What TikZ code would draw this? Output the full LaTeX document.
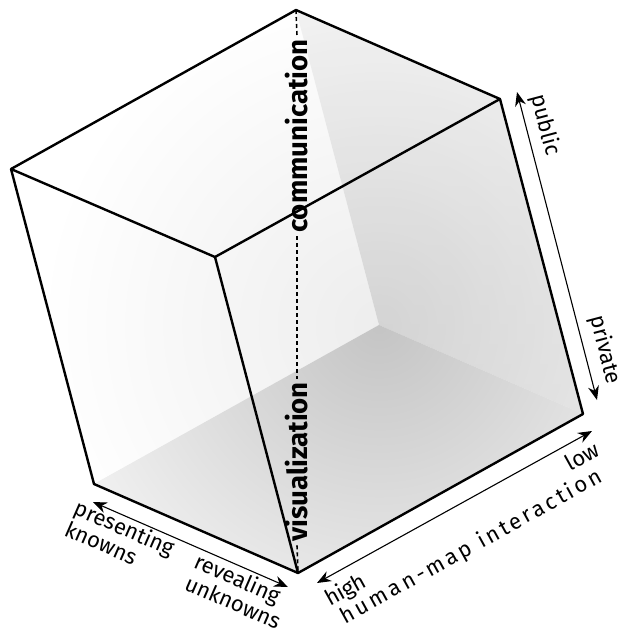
\documentclass[tikz,border=0pt]{standalone}
\usepackage{fontspec}
\setmainfont{Fira Sans}
\usetikzlibrary{arrows.meta}

\begin{document}
\begin{tikzpicture}[
  x=0.5pt, y=-0.5pt,
  edge/.style={line width=1.2pt, line join=round},
  axis/.style={line width=0.55pt, {Stealth[length=7pt,width=5.5pt]}-{Stealth[length=7pt,width=5.5pt]}},
  dim/.style={font=\fontsize{11}{10}\selectfont, inner sep=0pt, align=left},
  mode/.style={font=\bfseries\fontsize{13.8}{13.8}\selectfont, rotate=90, inner sep=1.5pt},
  guide/.style={line width=0.8pt, dash pattern=on 2pt off 1.5pt}
]
  \useasboundingbox (0,0) rectangle (621,634);
  \coordinate (T) at (296,10);
  \coordinate (L) at (11,169);
  \coordinate (R) at (500,99);
  \coordinate (F) at (215,257);
  \coordinate (K) at (379,325);
  \coordinate (BL) at (94,484);
  \coordinate (BR) at (583,414);
  \coordinate (B) at (298,573);

  \fill[white] (T) -- (L) -- (BL) -- (K) -- cycle;
  \shade[top color=gray!6, bottom color=gray!22] (T) -- (R) -- (BR) -- (K) -- cycle;
  \fill[gray!10] (K) -- (BR) -- (B) -- (BL) -- cycle;
  \begin{scope}
    \clip (T) -- (L) -- (BL) -- (K) -- cycle;
    \shade[inner color=gray!14, outer color=white] (K) circle (170pt);
  \end{scope}
  \begin{scope}
    \clip (T) -- (R) -- (BR) -- (K) -- cycle;
    \shade[inner color=gray!40, outer color=gray!10, opacity=0.7] (K) circle (170pt);
  \end{scope}
  \begin{scope}
    \clip (K) -- (BR) -- (B) -- (BL) -- cycle;
    \shade[inner color=gray!46, outer color=gray!8] (K) circle (180pt);
  \end{scope}

  \draw[edge] (T) -- (L) -- (BL) -- (B) -- (BR) -- (R) -- cycle;
  \draw[edge] (L) -- (F) -- (R);
  \draw[edge] (F) -- (B);

  \node[mode] (comm) at (297,136) {communication};
  \node[mode] (vis) at (297,462) {visualization};
  \draw[guide] (T) -- (comm.east);
  \draw[guide] (comm.west) -- (vis.east);
  \draw[guide] (vis.west) -- (B);

  \coordinate (know) at (93,502);
  \coordinate (unkn) at (288,587);
  \coordinate (high) at (317,583);
  \coordinate (low) at (592,431);
  \coordinate (pub) at (517,92);
  \coordinate (priv) at (597,400);
  \draw[axis] (know) -- (unkn);
  \draw[axis] (high) -- (low);
  \draw[axis] (pub) -- (priv);

  \node[dim, rotate=-23.6] (pk) at (120,538) {presenting\\knowns};
  \node[dim, rotate=-23.6] (ru) at (238,591) {revealing\\unknowns};
  \node[dim, rotate=29] (hl) at (346,591) {high};
  \node[dim, rotate=29] (ll) at (582,456) {low};
  \node[dim, rotate=29, font=\fontsize{11}{10}\selectfont\addfontfeature{LetterSpace=14}] (hmi) at (472,547) {human-map interaction};
  \node[dim, rotate=-75.2] (pl) at (545,125) {public};
  \node[dim, rotate=-75.2] (vl) at (605,350) {private};
\end{tikzpicture}
\end{document}
